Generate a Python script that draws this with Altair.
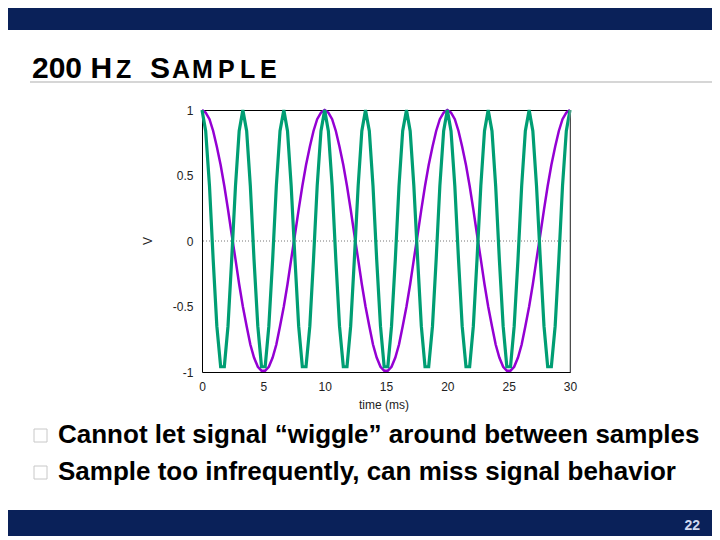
import altair as alt
import pandas as pd

# ---- data (100 samples over 0..30 ms) ----
time_ms = [
    0.00, 0.30, 0.61, 0.91, 1.21, 1.52, 1.82, 2.12, 2.42, 2.73,
    3.03, 3.33, 3.64, 3.94, 4.24, 4.55, 4.85, 5.15, 5.45, 5.76,
    6.06, 6.36, 6.67, 6.97, 7.27, 7.58, 7.88, 8.18, 8.48, 8.79,
    9.09, 9.39, 9.70, 10.00, 10.30, 10.61, 10.91, 11.21, 11.52, 11.82,
    12.12, 12.42, 12.73, 13.03, 13.33, 13.64, 13.94, 14.24, 14.55, 14.85,
    15.15, 15.45, 15.76, 16.06, 16.36, 16.67, 16.97, 17.27, 17.58, 17.88,
    18.18, 18.48, 18.79, 19.09, 19.39, 19.70, 20.00, 20.30, 20.61, 20.91,
    21.21, 21.52, 21.82, 22.12, 22.42, 22.73, 23.03, 23.33, 23.64, 23.94,
    24.24, 24.55, 24.85, 25.15, 25.45, 25.76, 26.06, 26.36, 26.67, 26.97,
    27.27, 27.58, 27.88, 28.18, 28.48, 28.79, 29.09, 29.39, 29.70, 30.00,
]

purple_v = [
    1.00, 0.98, 0.93, 0.84, 0.72, 0.58, 0.42, 0.24, 0.05, -0.14, -0.33,
    -0.50, -0.65, -0.79, -0.89, -0.96, -0.99, -0.99, -0.96, -0.89, -0.79, -0.65,
    -0.50, -0.33, -0.14, 0.05, 0.24, 0.42, 0.58, 0.72, 0.84, 0.93, 0.98,
    1.00, 0.98, 0.93, 0.84, 0.72, 0.58, 0.42, 0.24, 0.05, -0.14, -0.33,
    -0.50, -0.65, -0.79, -0.89, -0.96, -0.99, -0.99, -0.96, -0.89, -0.79, -0.65,
    -0.50, -0.33, -0.14, 0.05, 0.24, 0.42, 0.58, 0.72, 0.84, 0.93, 0.98,
    1.00, 0.98, 0.93, 0.84, 0.72, 0.58, 0.42, 0.24, 0.05, -0.14, -0.33,
    -0.50, -0.65, -0.79, -0.89, -0.96, -0.99, -0.99, -0.96, -0.89, -0.79, -0.65,
    -0.50, -0.33, -0.14, 0.05, 0.24, 0.42, 0.58, 0.72, 0.84, 0.93, 0.98,
    1.00,
]

green_v = [
    1.00, 0.84, 0.42, -0.14, -0.65, -0.96, -0.96, -0.65, -0.14, 0.42, 0.84,
    1.00, 0.84, 0.42, -0.14, -0.65, -0.96, -0.96, -0.65, -0.14, 0.42, 0.84,
    1.00, 0.84, 0.42, -0.14, -0.65, -0.96, -0.96, -0.65, -0.14, 0.42, 0.84,
    1.00, 0.84, 0.42, -0.14, -0.65, -0.96, -0.96, -0.65, -0.14, 0.42, 0.84,
    1.00, 0.84, 0.42, -0.14, -0.65, -0.96, -0.96, -0.65, -0.14, 0.42, 0.84,
    1.00, 0.84, 0.42, -0.14, -0.65, -0.96, -0.96, -0.65, -0.14, 0.42, 0.84,
    1.00, 0.84, 0.42, -0.14, -0.65, -0.96, -0.96, -0.65, -0.14, 0.42, 0.84,
    1.00, 0.84, 0.42, -0.14, -0.65, -0.96, -0.96, -0.65, -0.14, 0.42, 0.84,
    1.00, 0.84, 0.42, -0.14, -0.65, -0.96, -0.96, -0.65, -0.14, 0.42, 0.84,
    1.00,
]

x_tick_values = [0, 5, 10, 15, 20, 25, 30]
y_tick_values = [-1, -0.5, 0, 0.5, 1]

slide_title = [("200 H", 30), ("Z", 25), ("S", 30), ("A", 25), ("M", 25), ("P", 25), ("L", 25), ("E", 25)]
bullets = [
    "Cannot let signal \u201cwiggle\u201d around between samples",
    "Sample too infrequently, can miss signal behavior",
]
page_number = "22"
x_title = "time (ms)"
y_title = "V"

NAVY = "#0a2159"
PURPLE = "#9400d3"
GREEN = "#009e73"
FONT = "Liberation Sans"

df = pd.DataFrame({"t": time_ms, "purple": purple_v, "green": green_v})
one = pd.DataFrame({"d": [0]})

W, H = 368, 262
xs = alt.Scale(domain=[0, 30], nice=False, zero=False)
ys = alt.Scale(domain=[-1, 1], nice=False, zero=False)

label_expr = "datum.value == 0 ? '0' : (datum.value < 0 ? '-' + toString(abs(datum.value)) : toString(datum.value))"


def rect(x1, x2, y1, y2, fill, stroke=None):
    kw = dict(fill=fill)
    if stroke:
        kw.update(stroke=stroke, strokeWidth=1)
    return alt.Chart(one).mark_rect(**kw).encode(
        x=alt.value(x1), x2=alt.value(x2), y=alt.value(y1), y2=alt.value(y2)
    )


def txt(s, x, y, size, bold=True, color="#000", align="left", angle=0):
    kw = dict(text=s, align=align, baseline="alphabetic", fontSize=size,
              fontWeight="bold" if bold else "normal", color=color, font=FONT)
    if angle:
        kw["angle"] = angle
    return alt.Chart(one).mark_text(**kw).encode(x=alt.value(x), y=alt.value(y))


layers = []
# slide decoration (coordinates relative to plot origin)
layers.append(rect(-210, 530, -110, -80, NAVY))
layers.append(rect(-210, 530, 400, 440, NAVY))
layers.append(rect(-172, 530, -29, -27, "#d6d6d6"))

# title in small caps
title_x = [-170, -86, -52, -30, -10, 16, 38, 58]
for (s, size), x in zip(slide_title, title_x):
    layers.append(txt(s, x, -32, size))

# bullets
for i, b in enumerate(bullets):
    yb = 333 + 37 * i
    layers.append(rect(-168, -155, yb - 14, yb - 1, "#ffffff", "#c8c8c8"))
    layers.append(txt(b, -144, yb, 26))

layers.append(txt(page_number, 498, 420, 14, color="#d0d8f0", align="right"))

# axis titles
layers.append(txt(y_title, -50, 131, 12, bold=False, color="#222", align="center", angle=270))
layers.append(txt(x_title, 182, 299, 12, bold=False, color="#222", align="center"))

# zero line
layers.append(
    alt.Chart(pd.DataFrame({"z": [0]})).mark_rule(color="#777", strokeDash=[1, 2], strokeWidth=1)
    .encode(y=alt.Y("z:Q", scale=ys))
)

purple = alt.Chart(df).mark_line(color=PURPLE, strokeWidth=2.5).encode(
    x=alt.X("t:Q", scale=xs,
            axis=alt.Axis(values=x_tick_values, title=None, grid=False, ticks=False, domain=False,
                          labelFlush=False, labelPadding=9, labelFontSize=12, labelColor="#222",
                          labelFont=FONT)),
    y=alt.Y("purple:Q", scale=ys,
            axis=alt.Axis(values=y_tick_values, title=None, grid=False, ticks=False, domain=False,
                          labelExpr=label_expr, labelPadding=9, labelFontSize=12, labelColor="#222",
                          labelFont=FONT, labelOverlap=False)),
)
green = alt.Chart(df).mark_line(color=GREEN, strokeWidth=3.2).encode(
    x=alt.X("t:Q", scale=xs), y=alt.Y("green:Q", scale=ys)
)
layers += [purple, green]

# right frame edge is grey in the picture
layers.append(
    alt.Chart(one).mark_rule(color="#999", strokeWidth=1)
    .encode(x=alt.value(W), y=alt.value(0), y2=alt.value(H))
)

chart = alt.layer(*layers).properties(
    width=W, height=H,
    autosize=alt.AutoSizeParams(type="none"),
    padding={"left": 194, "top": 102, "right": 142, "bottom": 164},
    background="#ffffff",
).configure_view(stroke="#000", strokeWidth=1)

chart.save("out.html", embed_options={"renderer": "svg", "actions": False})
